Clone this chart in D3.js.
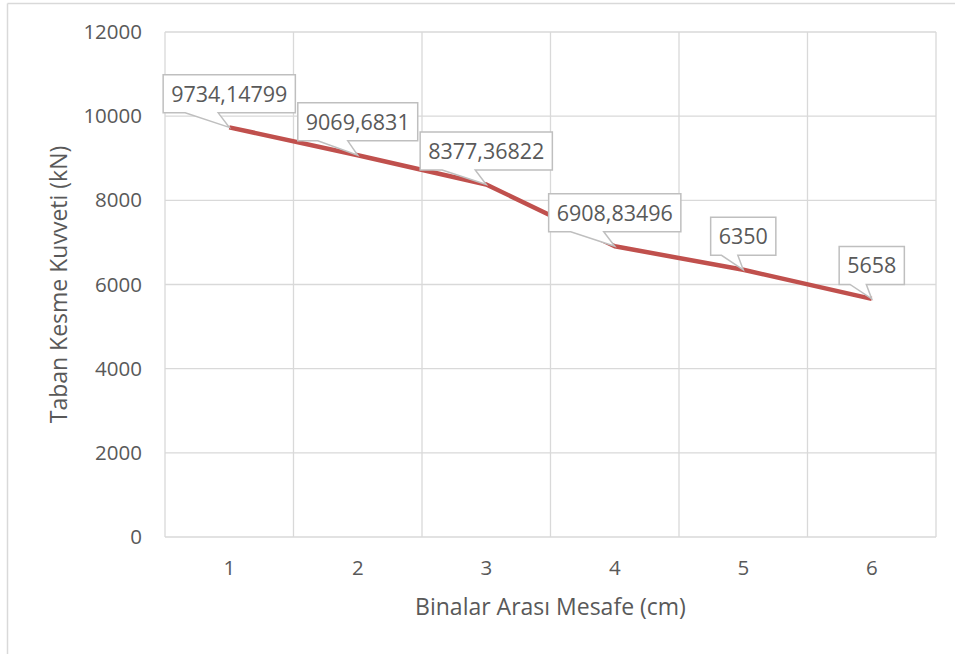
<!DOCTYPE html>
<html>
<head>
<meta charset="utf-8">
<script src="https://cdn.jsdelivr.net/npm/d3@7"></script>
<style>
  body { margin: 0; background: #fff; }
  #chart { width: 955px; height: 654px; }
  text { font-family: "Open Sans", "Noto Sans", sans-serif; fill: #595959; }
</style>
</head>
<body>
<div id="chart"></div>
<script>
// data
const categories = ["1", "2", "3", "4", "5", "6"];
const values = [9734.14799, 9069.6831, 8377.36822, 6908.83496, 6350, 5658];
const labels = ["9734,14799", "9069,6831", "8377,36822", "6908,83496", "6350", "5658"];
const yTicks = [0, 2000, 4000, 6000, 8000, 10000, 12000];

const svgWidth = 955;
const svgHeight = 654;
const margin = { top: 32, right: 19, bottom: 117, left: 165 };
const width = svgWidth - margin.left - margin.right;
const height = svgHeight - margin.top - margin.bottom;

const svg = d3.select("#chart")
  .append("svg")
  .attr("width", svgWidth)
  .attr("height", svgHeight);

// chart area border (top and left only visible)
svg.append("line")
  .attr("x1", 7.5).attr("x2", svgWidth)
  .attr("y1", 3.5).attr("y2", 3.5)
  .attr("stroke", "#d9d9d9").attr("stroke-width", 1.5);
svg.append("line")
  .attr("x1", 7.5).attr("x2", 7.5)
  .attr("y1", 3.5).attr("y2", svgHeight)
  .attr("stroke", "#d9d9d9").attr("stroke-width", 1.5);

const g = svg.append("g")
  .attr("transform", `translate(${margin.left}, ${margin.top})`);

// scales
const x = d3.scaleBand()
  .domain(categories)
  .range([0, width]);

const y = d3.scaleLinear()
  .domain([0, 12000])
  .range([height, 0]);

// horizontal grid
g.append("g")
  .selectAll("line")
  .data(yTicks)
  .join("line")
  .attr("x1", 0)
  .attr("x2", width)
  .attr("y1", d => y(d))
  .attr("y2", d => y(d))
  .attr("stroke", "#d9d9d9")
  .attr("stroke-width", 1.3);

// vertical grid at category boundaries
const bounds = categories.map(c => x(c)).concat([width]);
g.append("g")
  .selectAll("line")
  .data(bounds)
  .join("line")
  .attr("x1", d => d)
  .attr("x2", d => d)
  .attr("y1", 0)
  .attr("y2", height)
  .attr("stroke", "#d9d9d9")
  .attr("stroke-width", 1.3);

// y axis labels
const yAxis = g.append("g")
  .call(d3.axisLeft(y).tickValues(yTicks).tickFormat(d3.format("d")).tickSize(0).tickPadding(23));
yAxis.select(".domain").remove();
yAxis.selectAll("text")
  .style("font-size", "20.5px")
  .style("font-family", "'Open Sans', sans-serif")
  .attr("fill", "#595959");

// x axis labels
const xAxis = g.append("g")
  .attr("transform", `translate(0, ${height})`)
  .call(d3.axisBottom(x).tickSize(0).tickPadding(23));
xAxis.select(".domain").remove();
xAxis.selectAll("text")
  .style("font-size", "20.5px")
  .style("font-family", "'Open Sans', sans-serif")
  .attr("fill", "#595959");

// axis titles
svg.append("text")
  .attr("x", margin.left + width / 2)
  .attr("y", 615)
  .attr("text-anchor", "middle")
  .style("font-size", "23px")
  .text("Binalar Arası Mesafe (cm)");

svg.append("text")
  .attr("transform", "rotate(-90)")
  .attr("x", -(margin.top + height / 2))
  .attr("y", 67)
  .attr("text-anchor", "middle")
  .style("font-size", "23px")
  .text("Taban Kesme Kuvveti (kN)");

// line
const pts = categories.map((c, i) => ({ c, v: values[i], label: labels[i] }));
const line = d3.line()
  .x(d => x(d.c) + x.bandwidth() / 2)
  .y(d => y(d.v));

g.append("path")
  .datum(pts)
  .attr("fill", "none")
  .attr("stroke", "#c0504d")
  .attr("stroke-width", 4.5)
  .attr("stroke-linejoin", "round")
  .attr("d", line);

// callout labels
const callouts = g.append("g");
pts.forEach(d => {
  const px = x(d.c) + x.bandwidth() / 2;
  const py = y(d.v);
  const grp = callouts.append("g");
  const txt = grp.append("text")
    .attr("text-anchor", "middle")
    .style("font-size", "21.5px")
    .text(d.label);
  const w = txt.node().getComputedTextLength() + 16;
  const h = 38;
  const left = px - w / 2;
  const bottom = py - 14.5;
  const top = bottom - h;
  const b1 = left + w / 6;
  const b2 = left + w * 5 / 12;
  const path = `M${left},${top} H${left + w} V${bottom} H${b2} L${px},${py} L${b1},${bottom} H${left} Z`;
  grp.insert("path", "text")
    .attr("d", path)
    .attr("fill", "#fff")
    .attr("stroke", "#bfbfbf")
    .attr("stroke-width", 1.5);
  txt.attr("x", px).attr("y", top + 27);
});
</script>
</body>
</html>
